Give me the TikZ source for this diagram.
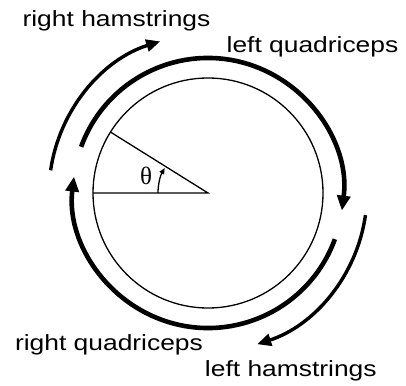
\documentclass[tikz,border=0pt]{standalone}
\usepackage{fontspec}
\setmainfont{Liberation Sans}[FakeStretch=1.2]
\newfontfamily\grk{Liberation Serif}
\usetikzlibrary{arrows.meta}
\begin{document}
\begin{tikzpicture}[x=1pt,y=1pt,
  lbl/.style={font=\fontsize{22}{24}\selectfont, inner sep=0pt, anchor=base},
  thin line/.style={line width=1.3pt},
  quad/.style={line width=4.6pt, -{Triangle[length=15pt,width=13pt]}},
  ham/.style={line width=3.4pt, -{Triangle[length=14pt,width=12pt]}}]
\useasboundingbox (-208,-192) rectangle (198,193);
\coordinate (O) at (0,0);
% crank circle
\draw[thin line] (O) circle (115);
\coordinate (P) at (148:115);
\coordinate (H) at (180:115);
\draw[thin line] (H) -- (O) -- (P);
% theta arc
\draw[line width=1.3pt, -{Triangle[length=6pt,width=5pt]}] (180:50) arc[start angle=180, end angle=150, radius=50];
\node[font=\grk\fontsize{25}{26}\selectfont, inner sep=0pt] (theta) at (-62,17) {θ};
% arcs
\draw[quad] (160:135) arc[start angle=160, end angle=-7.5, radius=135];
\draw[quad] (-20:135) arc[start angle=-20, end angle=-187, radius=135];
\draw[ham] (171.8:159) arc[start angle=171.8, end angle=107.5, radius=159];
\draw[ham] (-8:159) arc[start angle=-8, end angle=-72, radius=159];
% labels
\node[lbl] (rh) at (-91.5,166.3) {right hamstrings};
\node[lbl] (lq) at (104.5,140.3) {left quadriceps};
\node[lbl] (rq) at (-99,-157.7) {right quadriceps};
\node[lbl] (lh) at (82.8,-183.7) {left hamstrings};
\end{tikzpicture}
\end{document}
